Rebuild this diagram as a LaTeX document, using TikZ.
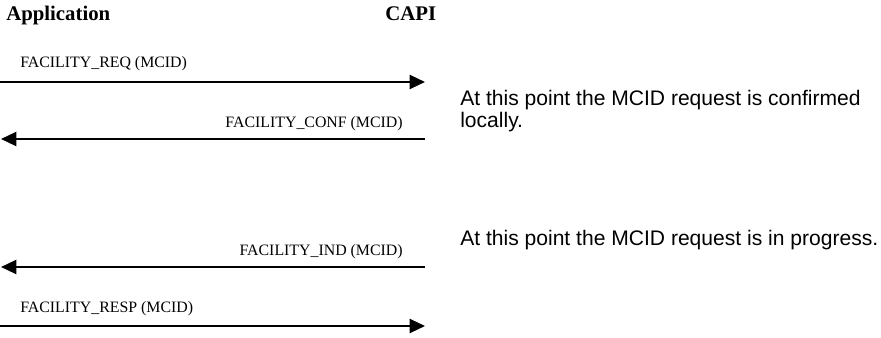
\documentclass[tikz,border=0pt]{standalone}
\usepackage{fontspec}
\setmainfont{Liberation Serif}
\setsansfont{Liberation Sans}
\usetikzlibrary{arrows.meta,calc}

\tikzset{
    msg/.style={line width=1.7pt, -{Triangle[length=11.5pt,width=10.5pt]}},
    msglabel/.style={font=\fontsize{11.9}{14}\selectfont, inner sep=0pt},
    party/.style={font=\fontsize{15.6}{18}\selectfont\bfseries, inner sep=0pt, anchor=base west},
    note/.style={font=\sffamily\fontsize{15.8}{16.5}\selectfont, inner sep=0pt, anchor=base west, align=left}
}

\begin{document}
\begin{tikzpicture}[x=0.75pt, y=-0.75pt]
    \useasboundingbox (0,0) rectangle (881,338);

    % Parties
    \node[party] (app) at (6,21) {Application};
    \node[party] (capi) at (385,21) {CAPI};

    % Application -> CAPI
    \foreach \n/\y/\t in {req/82/FACILITY\_REQ (MCID),resp/326/FACILITY\_RESP (MCID)} {
        \coordinate (\n-a) at (0,\y);
        \coordinate (\n-c) at (425,\y);
        \draw[msg] (\n-a) -- (\n-c);
        \node[msglabel, anchor=base west] (\n-lab) at ($(\n-a)+(20,-14)$) {\t};
    }

    % CAPI -> Application
    \foreach \n/\y/\t in {conf/139/FACILITY\_CONF (MCID),ind/267/FACILITY\_IND (MCID)} {
        \coordinate (\n-a) at (1,\y);
        \coordinate (\n-c) at (425,\y);
        \draw[msg] (\n-c) -- (\n-a);
        \node[msglabel, anchor=base east] (\n-lab) at ($(\n-c)+(-22,-11)$) {\t};
    }

    % Notes
    \node[note] (confnote) at (460,128) {At this point the MCID request is confirmed\\locally.};
    \node[note] (indnote) at (460,246) {At this point the MCID request is in progress.};
\end{tikzpicture}
\end{document}
